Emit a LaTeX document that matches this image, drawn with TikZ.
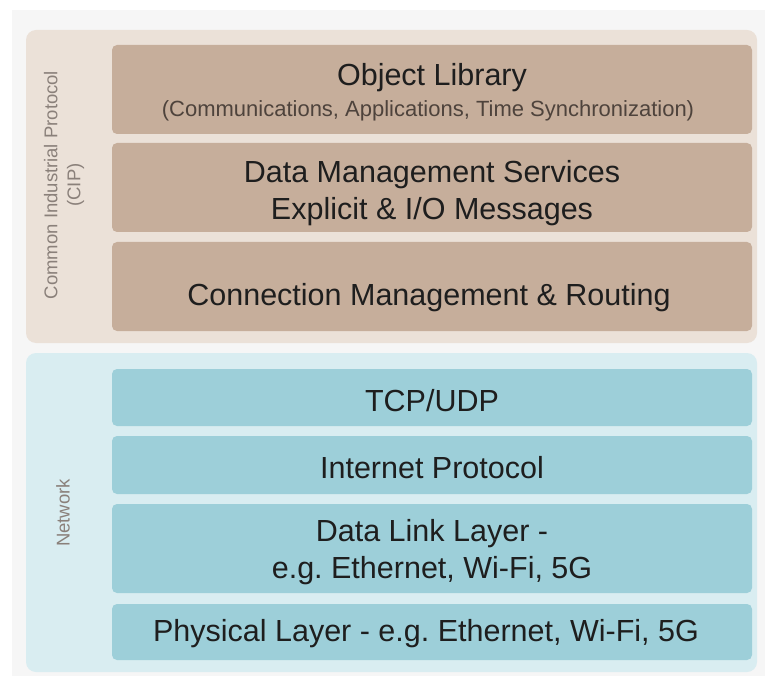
\documentclass[tikz,border=0pt]{standalone}
\usepackage{fontspec}
\setmainfont{Liberation Sans}
\frenchspacing
\definecolor{pagebg}{HTML}{F6F6F6}
\definecolor{cippanel}{HTML}{EBE1D8}
\definecolor{cipbox}{HTML}{C6AE9B}
\definecolor{netpanel}{HTML}{D9EDF1}
\definecolor{netbox}{HTML}{9DCFD9}
\definecolor{ink}{HTML}{1E1E1E}
\definecolor{subink}{HTML}{4E433C}
\definecolor{sideink}{HTML}{8A807A}
\begin{document}
\begin{tikzpicture}[x=1pt,y=-1pt,
  panel/.style={rounded corners=10pt},
  layer/.style={rounded corners=5pt},
  maintext/.style={text=ink,font=\fontsize{30.5}{37}\selectfont,align=center,inner sep=0pt},
  subtext/.style={text=subink,font=\fontsize{22}{26}\selectfont,align=center,inner sep=0pt},
  sidetext/.style={text=sideink,font=\fontsize{18.5}{23}\selectfont,align=center,inner sep=0pt,rotate=90}]
\useasboundingbox (0,0) rectangle (765,684);
\fill[white] (0,0) rectangle (765,684);
\fill[pagebg] (12,10) rectangle (765,676);

% CIP group
\fill[cippanel,panel] (26,30) rectangle (757,343);
\fill[cipbox,layer] (112,45) rectangle (752,134);
\fill[cipbox,layer] (112,143) rectangle (752,232);
\fill[cipbox,layer] (112,242) rectangle (752,331);
\node[maintext] (objlib) at (432,78) {Object Library};
\node[subtext] (objsub) at (428,111) {(Communications, Applications, Time Synchronization)};
\node[maintext] (dms) at (432,193) {Data Management Services\\Explicit \& I/O Messages};
\node[maintext] (conn) at (429,298) {Connection Management \& Routing};
\node[sidetext] (cip) at (64,185) {Common Industrial Protocol\\(CIP)};

% Network group
\fill[netpanel,panel] (26,353) rectangle (757,672);
\fill[netbox,layer] (112,369) rectangle (752,426);
\fill[netbox,layer] (112,436) rectangle (752,494);
\fill[netbox,layer] (112,504) rectangle (752,593);
\fill[netbox,layer] (112,604) rectangle (752,660);
\node[maintext] (tcp) at (432,401) {TCP/UDP};
\node[maintext] (ip) at (432,468) {Internet Protocol};
\node[maintext] (dll) at (432,552) {Data Link Layer -\\e.g. Ethernet, Wi-Fi, 5G};
\node[maintext] (phy) at (426,634) {Physical Layer - e.g. Ethernet, Wi-Fi, 5G};
\node[sidetext] (net) at (63,513) {Network};
\end{tikzpicture}
\end{document}
